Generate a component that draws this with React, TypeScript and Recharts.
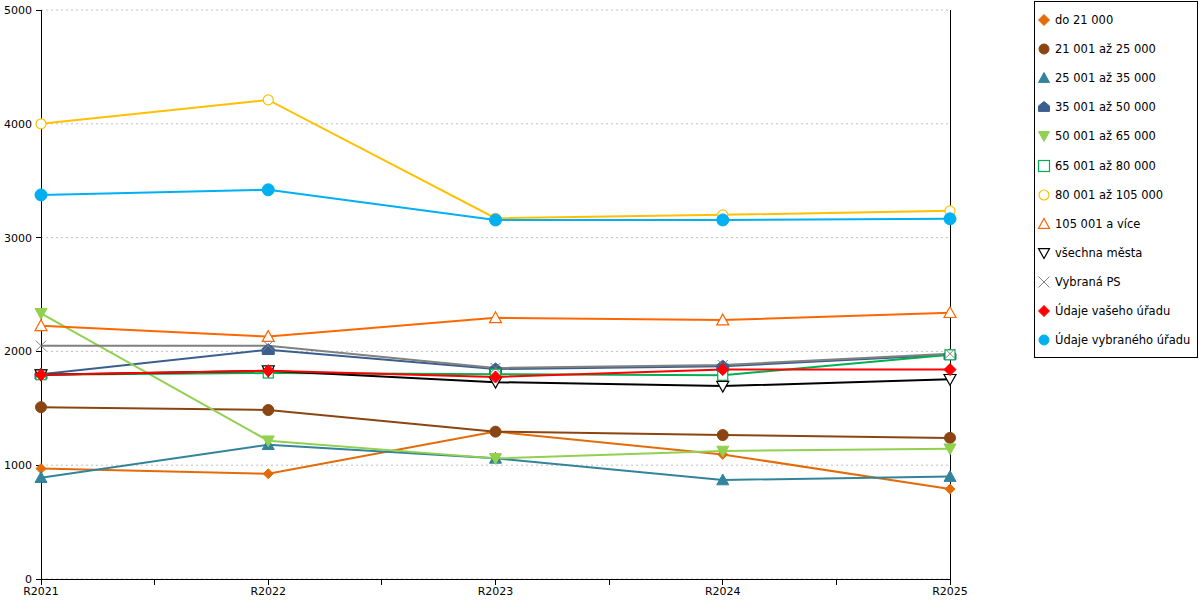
import { CartesianGrid, Line, LineChart, XAxis, YAxis } from "recharts";

const years = ["R2021", "R2022", "R2023", "R2024", "R2025"];
const yTicks = [0, 1000, 2000, 3000, 4000, 5000];
const xTicks = [0, 0.5, 1, 1.5, 2, 2.5, 3, 3.5, 4];

const do21 = [970, 925, 1295, 1095, 790];
const do25 = [1510, 1485, 1295, 1265, 1240];
const do35 = [890, 1180, 1060, 870, 900];
const do50 = [1800, 2015, 1845, 1870, 1970];
const do65 = [2335, 1215, 1060, 1125, 1145];
const do80 = [1795, 1810, 1800, 1790, 1970];
const do105 = [4000, 4210, 3170, 3200, 3235];
const nad105 = [2225, 2130, 2295, 2275, 2340];
const vsechna = [1795, 1830, 1730, 1695, 1755];
const vybranaPS = [2050, 2050, 1855, 1880, 1980];
const vasUrad = [1795, 1830, 1775, 1840, 1840];
const vybranyUrad = [3375, 3420, 3155, 3155, 3165];

type Kind = "diamond" | "circle" | "tri" | "house" | "down" | "square" | "x";

const series = [
  { key: "a", name: "do 21 000", values: do21, color: "#e36c09", kind: "diamond", filled: true, size: 5 },
  { key: "b", name: "21 001 až 25 000", values: do25, color: "#8b4513", kind: "circle", filled: true, size: 5.5 },
  { key: "c", name: "25 001 až 35 000", values: do35, color: "#31849b", kind: "tri", filled: true, size: 6 },
  { key: "d", name: "35 001 až 50 000", values: do50, color: "#3a5f8f", kind: "house", filled: true, size: 6 },
  { key: "e", name: "50 001 až 65 000", values: do65, color: "#92d050", kind: "down", filled: true, size: 6 },
  { key: "f", name: "65 001 až 80 000", values: do80, color: "#00b050", kind: "square", filled: false, size: 5 },
  { key: "g", name: "80 001 až 105 000", values: do105, color: "#ffc000", kind: "circle", filled: false, size: 5 },
  { key: "h", name: "105 001 a více", values: nad105, color: "#ff6600", kind: "tri", filled: false, size: 6 },
  { key: "i", name: "všechna města", values: vsechna, color: "#000000", kind: "down", filled: false, size: 6 },
  { key: "j", name: "Vybraná PS", values: vybranaPS, color: "#808080", kind: "x", filled: false, size: 5 },
  { key: "k", name: "Údaje vašeho úřadu", values: vasUrad, color: "#ff0000", kind: "diamond", filled: true, size: 6 },
  { key: "l", name: "Údaje vybraného úřadu", values: vybranyUrad, color: "#00b0f0", kind: "circle", filled: true, size: 6 },
] as { key: string; name: string; values: number[]; color: string; kind: Kind; filled: boolean; size: number }[];

const data = years.map((y, i) => {
  const row: Record<string, number | string> = { idx: i, year: y };
  series.forEach((s) => (row[s.key] = s.values[i]));
  return row;
});

const Marker = ({ kind, cx, cy, s, color, filled }: { kind: Kind; cx: number; cy: number; s: number; color: string; filled: boolean }) => {
  const fill = filled ? color : "#ffffff";
  const common = { fill, stroke: color, strokeWidth: filled ? 1 : 1.2 };
  let pts = "";
  switch (kind) {
    case "circle":
      return <circle cx={cx} cy={cy} r={s} {...common} />;
    case "square":
      return <rect x={cx - s} y={cy - s} width={s * 2} height={s * 2} {...common} />;
    case "x":
      return (
        <g stroke={color} strokeWidth={1}>
          <line x1={cx - s} y1={cy - s} x2={cx + s} y2={cy + s} />
          <line x1={cx - s} y1={cy + s} x2={cx + s} y2={cy - s} />
        </g>
      );
    case "diamond":
      pts = `${cx},${cy - s} ${cx + s},${cy} ${cx},${cy + s} ${cx - s},${cy}`;
      break;
    case "tri":
      pts = `${cx},${cy - s} ${cx + s},${cy + s * 0.8} ${cx - s},${cy + s * 0.8}`;
      break;
    case "down":
      pts = `${cx},${cy + s} ${cx + s},${cy - s * 0.8} ${cx - s},${cy - s * 0.8}`;
      break;
    case "house":
      pts = `${cx},${cy - s} ${cx + s},${cy - s * 0.2} ${cx + s},${cy + s * 0.8} ${cx - s},${cy + s * 0.8} ${cx - s},${cy - s * 0.2}`;
      break;
  }
  return <polygon points={pts} {...common} />;
};

const font = "'DejaVu Sans', Verdana, sans-serif";
const black = { stroke: "#000", strokeWidth: 1, strokeOpacity: 1, shapeRendering: "crispEdges" };

export default function App() {
  return (
    <div style={{ position: "absolute", left: 0, top: 0, width: 1200, height: 600, background: "#fff" }}>
      <LineChart width={1200} height={600} data={data} margin={{ top: 10, right: 249, bottom: 0, left: 0 }}>
        <CartesianGrid vertical={false} stroke="#c0c0c0" strokeDasharray="2 3" />
        <XAxis
          dataKey="idx"
          type="number"
          domain={[0, 4]}
          ticks={xTicks}
          tickFormatter={(v: number) => (Number.isInteger(v) ? years[v] : "")}
          height={21}
          tickSize={6}
          tickMargin={2}
          axisLine={black}
          tickLine={black}
          tick={{ fill: "#000", fontSize: 11, fontFamily: font }}
          interval={0}
        />
        <YAxis
          domain={[0, 5000]}
          ticks={yTicks}
          width={41}
          tickSize={5}
          tickMargin={4}
          axisLine={black}
          tickLine={black}
          tick={{ fill: "#000", fontSize: 11, fontFamily: font }}
          interval={0}
        />
        <YAxis yAxisId="right" orientation="right" width={1} tick={false} tickLine={false} axisLine={black} domain={[0, 5000]} />
        {series.map((s) => (
          <Line
            key={s.key}
            dataKey={s.key}
            name={s.name}
            stroke={s.color}
            strokeWidth={2}
            isAnimationActive={false}
            dot={(p: any) => (
              <Marker key={`${s.key}-${p.index}`} kind={s.kind} cx={p.cx} cy={p.cy} s={s.size} color={s.color} filled={s.filled} />
            )}
            activeDot={false}
          />
        ))}
      </LineChart>
      <div
        style={{
          position: "absolute",
          left: 1034,
          top: 1,
          width: 164,
          height: 357,
          border: "1px solid #000",
          fontFamily: font,
          fontSize: 11.5,
          boxSizing: "border-box",
        }}
      >
        {series.map((s, i) => (
          <div key={s.key} style={{ position: "absolute", left: 0, top: 10 + i * 29.1, height: 16, display: "flex", alignItems: "center", whiteSpace: "nowrap" }}>
            <svg width={18} height={16} style={{ marginLeft: 1 }}>
              <Marker kind={s.kind} cx={8} cy={8} s={s.kind === "circle" ? 5 : 5.5} color={s.color} filled={s.filled} />
            </svg>
            <span style={{ marginLeft: 1 }}>{s.name}</span>
          </div>
        ))}
      </div>
    </div>
  );
}
